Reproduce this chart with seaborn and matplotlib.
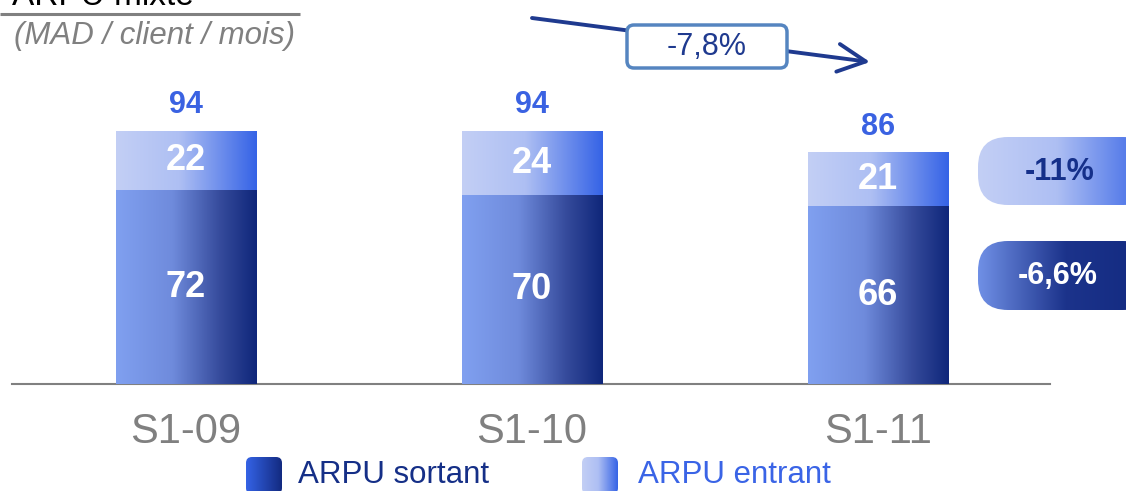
import numpy as np
import pandas as pd
import matplotlib
matplotlib.use('Agg')
import matplotlib.pyplot as plt
import seaborn as sns
from matplotlib.colors import LinearSegmentedColormap
from matplotlib.patches import FancyBboxPatch

# Données
periodes = ['S1-09', 'S1-10', 'S1-11']
arpu_sortant = [72, 70, 66]
arpu_entrant = [22, 24, 21]
arpu_total = [94, 94, 86]
series = ['ARPU sortant', 'ARPU entrant']
evol_total = '-7,8%'
evol_entrant = '-11%'
evol_sortant = '-6,6%'

sns.set_theme(style='white')
plt.rcParams['font.family'] = ['Liberation Sans', 'DejaVu Sans']

df = pd.DataFrame({'periode': periodes, 'sortant': arpu_sortant,
                   'entrant': arpu_entrant, 'total': arpu_total})

# Dégradés
cmap_sortant = LinearSegmentedColormap.from_list('s', [(0, '#80a0f0'), (0.4, '#6f8bdc'), (0.75, '#34499a'), (1, '#0f267a')])
cmap_entrant = LinearSegmentedColormap.from_list('e', [(0, '#c3cff5'), (0.45, '#aebff3'), (1, '#3563e6')])
cmap_badge_s = LinearSegmentedColormap.from_list('bs', [(0, '#7090e6'), (0.5, '#1c338b'), (1, '#122a80')])
cmap_leg_s = LinearSegmentedColormap.from_list('ls', [(0, '#3563e6'), (1, '#122a80')])
grad = np.linspace(0, 1, 256).reshape(1, -1)

fig = plt.figure(figsize=(11.26, 4.91), dpi=100)
ax = fig.add_axes([12 / 1126, 107 / 491, 1038 / 1126, 384 / 491])

sns.barplot(data=df, x='periode', y='total', color='#c3cff5', width=0.405, errorbar=None, ax=ax)
sns.barplot(data=df, x='periode', y='sortant', color='#80a0f0', width=0.405, errorbar=None, ax=ax)

n = len(periodes)
for i, p in enumerate(list(ax.patches)):
    cmap = cmap_entrant if i < n else cmap_sortant
    x0, y0, w, h = p.get_x(), p.get_y(), p.get_width(), p.get_height()
    ax.imshow(grad, cmap=cmap, extent=[x0, x0 + w, y0, y0 + h], aspect='auto',
              zorder=2 + (i >= n), interpolation='bicubic')
    p.set_visible(False)

ax.set_xlim(-0.503, 2.497)
ax.set_ylim(0, 142.7)

# Etiquettes
for i in range(n):
    s, e, t = arpu_sortant[i], arpu_entrant[i], arpu_total[i]
    ax.text(i, s / 2, str(s), ha='center', va='center', color='white', fontsize=26, fontweight='bold', zorder=5)
    ax.text(i, (s + t) / 2, str(e), ha='center', va='center', color='white', fontsize=26, fontweight='bold', zorder=5)
    ax.annotate(str(t), (i, t), xytext=(0, 13), textcoords='offset points', ha='center',
                va='baseline', color='#3a62e2', fontsize=22, fontweight='bold')

sns.despine(ax=ax, left=True)
ax.spines['bottom'].set_color('#808080')
ax.spines['bottom'].set_linewidth(1.5)
ax.set_yticks([])
ax.set_xlabel('')
ax.set_ylabel('')
ax.tick_params(axis='x', length=0, pad=20, labelsize=30, labelcolor='#808080')

# Couche d'annotations en pixels
ov = fig.add_axes([0, 0, 1, 1], zorder=10)
ov.set_xlim(0, 1126)
ov.set_ylim(491, 0)
ov.axis('off')
ov.patch.set_visible(False)

ov.text(12, 5, 'ARPU mixte', fontsize=24, color='black', va='baseline')
ov.plot([0, 300], [14, 14], color='#808080', lw=2.2, solid_capstyle='butt')
ov.text(14, 44, '(MAD / client / mois)', fontsize=22.5, style='italic', color='#808080', va='baseline')

ov.annotate('', xy=(870, 62), xytext=(532, 18),
            arrowprops=dict(arrowstyle='->,head_length=1.0,head_width=0.5', color='#1f3a8f', lw=2.8,
                            mutation_scale=20, shrinkA=0, shrinkB=0))
ov.add_patch(FancyBboxPatch((627, 25), 160, 43, boxstyle='round,pad=0,rounding_size=7',
                            facecolor='white', edgecolor='#5585c0', lw=2.5, zorder=3))
ov.text(707, 47, evol_total, ha='center', va='center', fontsize=22, color='#1f3a8f', zorder=4)


def badge(x, y, w, h, cmap, r):
    box = FancyBboxPatch((x, y), w, h, boxstyle='round,pad=0,rounding_size=%d' % r,
                         facecolor='none', edgecolor='none')
    ov.add_patch(box)
    im = ov.imshow(grad, cmap=cmap, extent=[x, x + w, y + h, y], aspect='auto', interpolation='bicubic', zorder=2)
    im.set_clip_path(box)


badge(978, 137, 175, 68, cmap_entrant, 30)
ov.text(1060, 172, evol_entrant, ha='center', va='center', fontsize=22, fontweight='bold', color='#15308a', zorder=4)
badge(978, 241, 175, 69, cmap_badge_s, 30)
ov.text(1058, 276, evol_sortant, ha='center', va='center', fontsize=22, fontweight='bold', color='white', zorder=4)

# Légende
badge(246, 457, 36, 37, cmap_leg_s, 6)
ov.text(298, 475, series[0], fontsize=22.5, color='#152f87', va='center')
badge(582, 457, 36, 37, cmap_entrant, 6)
ov.text(638, 475, series[1], fontsize=22.5, color='#3a64e6', va='center')

ov.set_xlim(0, 1126)
ov.set_ylim(491, 0)

fig.savefig('out.png', dpi=100)
